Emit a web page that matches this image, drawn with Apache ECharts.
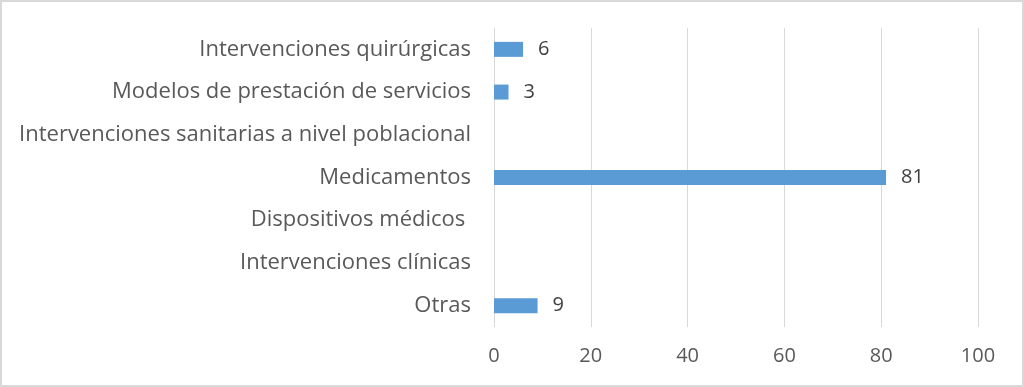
<!DOCTYPE html>
<html><head><meta charset="utf-8">
<script src="https://cdn.jsdelivr.net/npm/echarts@6/dist/echarts.min.js"></script>
<style>
html,body{margin:0;padding:0;background:#fff;}
#c{position:absolute;left:0;top:0;width:1020px;height:383px;border:2px solid #d9d9d9;}
</style></head><body>
<div id="c"></div>
<script>
const categories = ["Intervenciones quirúrgicas","Modelos de prestación de servicios","Intervenciones sanitarias a nivel poblacional","Medicamentos","Dispositivos médicos ","Intervenciones clínicas","Otras"];
const values = [6, 3, null, 81, null, null, 9];
const xTicks = [0, 20, 40, 60, 80, 100];

const chart = echarts.init(document.getElementById('c'));
const font = '"Open Sans", sans-serif';
chart.setOption({
  animation:false,
  grid:{left:492,right:44,top:26,bottom:58,containLabel:false},
  xAxis:{type:'value',min:xTicks[0],max:xTicks[xTicks.length-1],interval:20,
    axisLine:{show:false},axisTick:{show:false},
    splitLine:{lineStyle:{color:'#d9d9d9',width:1}},
    axisLabel:{color:'#595959',fontSize:20,fontFamily:font,margin:19}},
  yAxis:{type:'category',data:categories,inverse:true,
    axisLine:{show:false},axisTick:{show:false},
    axisLabel:{color:'#595959',fontSize:22,fontFamily:font,margin:23}},
  series:[{type:'bar',data:values,barWidth:15,
    itemStyle:{color:'#5b9bd5'},
    label:{show:true,position:'right',distance:15,color:'#404040',fontSize:20,fontFamily:font}}]
});
</script></body></html>
